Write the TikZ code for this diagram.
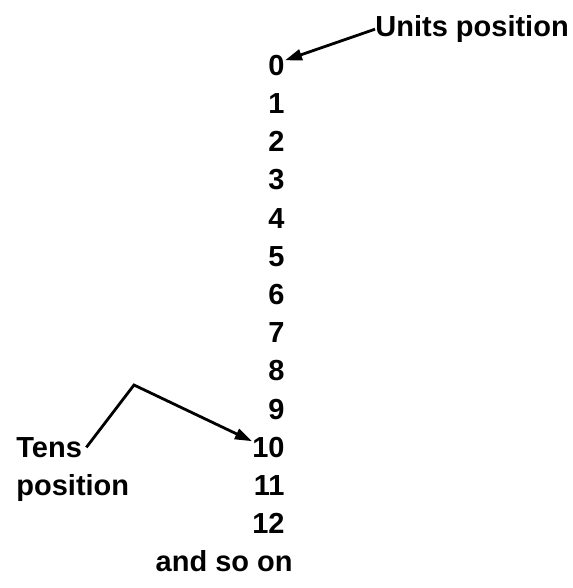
\documentclass[tikz,border=0pt]{standalone}
\usepackage{fontspec}
\setmainfont{Liberation Sans}
\usetikzlibrary{positioning, arrows.meta}
\tikzset{
  num/.style={inner sep=0pt, anchor=base east, font=\fontsize{14.5}{18}\selectfont\bfseries},
  lbl/.style={inner sep=0pt, anchor=base west, font=\fontsize{14.5}{18}\selectfont\bfseries},
  pointer/.style={line width=1.4pt, -{Triangle[length=8.5pt, width=5.5pt]}},
}
\begin{document}
\begin{tikzpicture}[x=0.5pt, y=-0.5pt]
    \useasboundingbox (0,0) rectangle (572,588);
    % column of numbers
    \foreach \n in {0,...,12}
      \node[num] (d\n) at (285, 75.2+38.2*\n) {\n};
    \node[num] (more) at (293, 571.8) {and so on};
    % labels
    \node[lbl] (units) at (375, 36.7) {Units position};
    \node[lbl] (tens) at (16, 457.2) {Tens};
    \node[lbl] (pos) at (16, 495.4) {position};
    \coordinate (bend) at (134, 385);
    \draw[pointer] (units.west) -- (d0.30);
    \draw[pointer] ([xshift=2pt]tens.east) -- (bend) -- (d10.160);
  \end{tikzpicture}
\end{document}
